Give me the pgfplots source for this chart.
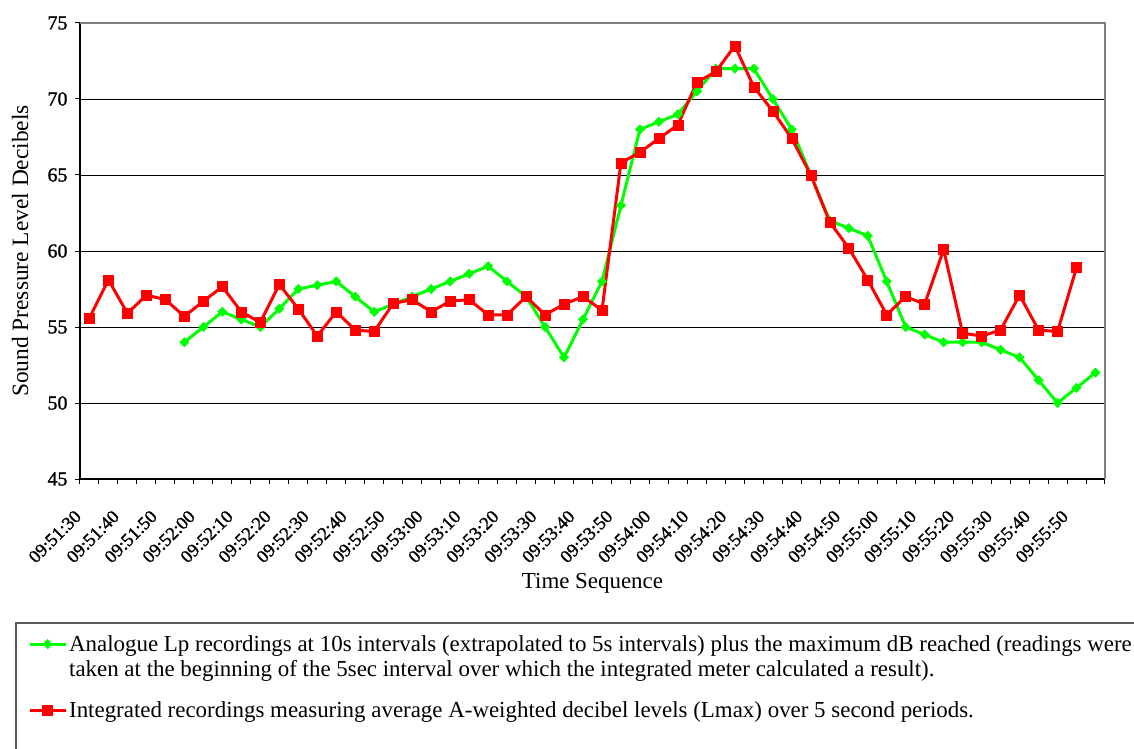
\documentclass[border=0pt]{standalone}
\usepackage{fontspec}
\setmainfont{Liberation Serif}
\newfontfamily\tickfont[FakeBold=1.3]{Liberation Serif}
\usepackage{pgfplots}
\pgfplotsset{compat=1.18}
\definecolor{lgreen}{RGB}{0,255,0}
\definecolor{lred}{RGB}{255,0,0}
\pgfplotsset{mylegimg/.style={legend image code/.code={\draw[mark repeat=2,mark phase=2,##1] plot coordinates {(0bp,7bp) (18bp,7bp) (36bp,7bp)};}}}
\begin{document}
\begin{tikzpicture}
\begin{axis}[
  scale only axis,
  width=1025bp, height=456bp,
  at={(0,0)}, anchor=south west,
  xmin=-0.5, xmax=53.5,
  ymin=45, ymax=75,
  ytick={45,50,...,75},
  xtick={-0.5,0.5,...,53.5},
  xticklabels={},
  extra x ticks={0,2,...,52},
  extra x tick labels={09:51:30,09:51:40,09:51:50,09:52:00,09:52:10,09:52:20,09:52:30,09:52:40,09:52:50,09:53:00,09:53:10,09:53:20,09:53:30,09:53:40,09:53:50,09:54:00,09:54:10,09:54:20,09:54:30,09:54:40,09:54:50,09:55:00,09:55:10,09:55:20,09:55:30,09:55:40,09:55:50},
  extra x tick style={major tick length=0pt, grid=none,
     xticklabel style={shift={(-9bp,-18bp)}, rotate=45, anchor=east, font=\tickfont\fontsize{18.5}{21}\selectfont}},
  xticklabel shift=14bp,
  axis x line*=bottom, axis y line*=left,
  axis line style={black, line width=1.2bp},
  tick align=outside,
  major tick length=5bp,
  tick style={black, line width=1bp},
  ymajorgrids=true,
  major grid style={black, line width=0.8bp},
  /pgf/number format/assume math mode=true,
  yticklabel style={font=\tickfont\fontsize{20}{24}\selectfont, xshift=-4bp},
  xlabel={Time Sequence},
  ylabel={Sound Pressure Level Decibels},
  every axis x label/.style={at={(axis description cs:0.5,-0.228)}, anchor=center, font=\fontsize{23}{26}\selectfont},
  every axis y label/.style={at={(axis description cs:-0.0585,0.5)}, rotate=90, anchor=center, font=\fontsize{23.5}{26}\selectfont},
  legend cell align=left,
  mylegimg,
  legend style={at={(axis description cs:-0.0537,-0.330)}, anchor=north west, draw=none, fill=none,
     font=\fontsize{23}{25}\selectfont, row sep=45bp,
     cells={anchor=base west}},
  clip=false,
]
\addplot[lgreen, line width=3bp, mark=square*, mark size=3.3bp, mark options={solid, rotate=45, fill=lgreen, draw=lgreen, line width=0.5bp}]
coordinates {
(5,54.0)(6,55.0)(7,56.0)(8,55.5)(9,55.0)(10,56.2)(11,57.5)(12,57.75)(13,58.0)(14,57.0)
(15,56.0)(16,56.5)(17,57.0)(18,57.5)(19,58.0)(20,58.5)(21,59.0)(22,58.0)(23,57.0)(24,55.0)
(25,53.0)(26,55.5)(27,58.0)(28,63.0)(29,68.0)(30,68.5)(31,69.0)(32,70.5)(33,72.0)(34,72.0)
(35,72.0)(36,70.0)(37,68.0)(38,65.0)(39,62.0)(40,61.5)(41,61.0)(42,58.0)(43,55.0)(44,54.5)
(45,54.0)(46,54.0)(47,54.0)(48,53.5)(49,53.0)(50,51.5)(51,50.0)(52,51.0)(53,52.0)
};
\addlegendentry{\begin{tabular}[t]{@{}l@{}}Analogue Lp recordings at 10s intervals (extrapolated to 5s intervals) plus the maximum dB reached (readings were\\taken at the beginning of the 5sec interval over which the integrated meter calculated a result).\end{tabular}}
\addplot[lred, line width=3bp, mark=square*, mark size=5bp, mark options={solid, fill=lred, draw=lred, line width=0.5bp}]
coordinates {
(0,55.6)(1,58.1)(2,55.9)(3,57.1)(4,56.8)(5,55.7)(6,56.7)(7,57.65)(8,56.0)(9,55.3)
(10,57.8)(11,56.2)(12,54.4)(13,56.0)(14,54.8)(15,54.7)(16,56.55)(17,56.8)(18,56.0)(19,56.7)
(20,56.8)(21,55.8)(22,55.8)(23,57.0)(24,55.8)(25,56.5)(26,57.0)(27,56.1)(28,65.8)(29,66.5)
(30,67.4)(31,68.3)(32,71.1)(33,71.8)(34,73.5)(35,70.8)(36,69.2)(37,67.4)(38,65.0)(39,61.9)
(40,60.2)(41,58.1)(42,55.8)(43,57.0)(44,56.5)(45,60.1)(46,54.6)(47,54.4)(48,54.8)(49,57.1)
(50,54.8)(51,54.7)(52,58.9)
};
\addlegendentry{Integrated recordings measuring average A-weighted decibel levels (Lmax) over 5 second periods.}
\draw[gray, line width=1.5bp] (rel axis cs:0,1) -- (rel axis cs:1,1) -- (rel axis cs:1,0);
\end{axis}
\draw[gray!70!black, line width=1.2bp] (-64bp,-144bp) rectangle (1100bp,-320bp);
\pgfresetboundingbox
\useasboundingbox (-80bp,-270bp) rectangle (1054bp,479bp);
\end{tikzpicture}
\end{document}
